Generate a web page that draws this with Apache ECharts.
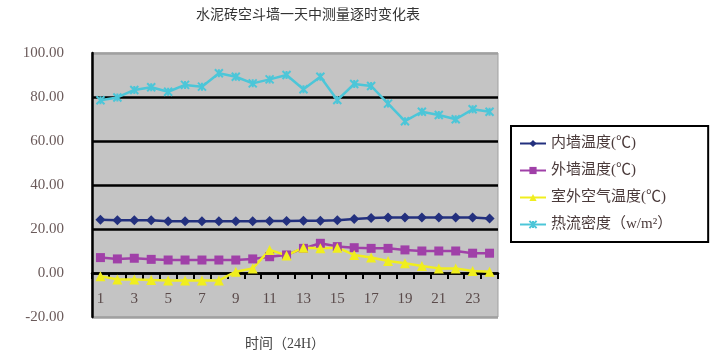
<!DOCTYPE html>
<html>
<head>
<meta charset="utf-8">
<script src="https://cdn.jsdelivr.net/npm/echarts@6/dist/echarts.min.js"></script>
<style>
  html, body { margin: 0; padding: 0; background: #fff; }
  #main { width: 716px; height: 356px; }
</style>
</head>
<body>
<div id="main"></div>
<script>
// 小时
var hours = ['1', '2', '3', '4', '5', '6', '7', '8', '9', '10', '11', '12',
  '13', '14', '15', '16', '17', '18', '19', '20', '21', '22', '23', '24']
// 内墙温度
var innerWall = [24.2, 24.0, 24.0, 24.0, 23.5, 23.5, 23.5, 23.5, 23.5, 23.5, 23.6, 23.6,
  23.7, 23.8, 24.0, 24.6, 25.0, 25.2, 25.2, 25.2, 25.2, 25.2, 25.2, 24.8]
// 外墙温度
var outerWall = [7.0, 6.4, 6.7, 6.2, 5.9, 5.9, 5.9, 5.9, 5.9, 6.4, 7.4, 8.2,
  11.2, 13.5, 12.0, 11.5, 11.2, 11.2, 10.5, 10.0, 10.0, 10.0, 9.0, 9.0]
// 室外空气温度
var outdoorAir = [-1.5, -2.9, -2.9, -3.2, -3.4, -3.4, -3.4, -3.4, 0.6, 2.1, 10.5, 8.0,
  11.5, 11.2, 11.5, 8.2, 7.0, 5.5, 4.4, 3.2, 2.1, 2.1, 0.9, 0.6]
// 热流密度
var heatFlux = [78.5, 79.8, 83.2, 84.4, 82.4, 85.5, 84.7, 90.8, 89.2, 86.2, 88.0, 90.0,
  83.5, 89.2, 78.6, 85.9, 85.0, 77.0, 69.0, 73.3, 71.8, 69.9, 74.4, 73.3]

var legendNames = ['内墙温度(℃)', '外墙温度(℃)', '室外空气温度(℃)', '热流密度（w/m²）']

var chart = echarts.init(document.getElementById('main'))
var textFont = '"Liberation Serif", "Noto Sans CJK SC", serif'
var starX = 'path://M0,0L10,10M10,0L0,10M5,0L5,10'

function lineSeries(name, data, color, symbol, size) {
  return {
    name: name,
    type: 'line',
    data: data,
    symbol: symbol,
    symbolSize: size,
    showSymbol: true,
    lineStyle: { color: color, width: 2.5 },
    itemStyle: { color: color, borderColor: color, borderWidth: symbol === starX ? 2 : 0 },
    z: 6
  }
}

var option = {
  animation: false,
  textStyle: { fontFamily: textFont },
  graphic: [
    {
      type: 'text', x: 308, y: 8,
      style: { text: '水泥砖空斗墙一天中测量逐时变化表', fill: '#333', font: '14px ' + textFont, textAlign: 'center' }
    },
    {
      type: 'text', x: 285, y: 337,
      style: { text: '时间（24H）', fill: '#444', font: '14px ' + textFont, textAlign: 'center' }
    }
  ],
  legend: {
    orient: 'vertical',
    left: 511,
    top: 126,
    data: legendNames,
    backgroundColor: '#fff',
    borderColor: '#000',
    borderWidth: 2,
    padding: [10, 36, 10, 8],
    itemWidth: 26,
    itemHeight: 9,
    itemGap: 12,
    textStyle: { fontSize: 15, color: '#4a3a3a', fontFamily: textFont }
  },
  grid: {
    left: 92,
    right: 218,
    top: 53,
    bottom: 39,
    show: true,
    backgroundColor: '#c4c4c4',
    borderColor: '#a0a0a0',
    borderWidth: 1
  },
  xAxis: {
    type: 'category',
    data: hours,
    offset: -44, // 横轴放在 0 值处
    z: 4,
    axisLine: { onZero: false, lineStyle: { color: '#000', width: 2.5 } },
    axisTick: { show: true, interval: 0, length: 6, inside: false, lineStyle: { color: '#000', width: 2 } },
    axisLabel: { interval: 1, margin: 19, fontSize: 15, color: '#5a4a4a', fontFamily: textFont }
  },
  yAxis: {
    type: 'value',
    min: -20,
    max: 100,
    interval: 20,
    axisLine: { show: true, lineStyle: { color: '#000', width: 2.5 } },
    axisTick: { show: false },
    splitLine: {
      show: true,
      lineStyle: { color: ['#a0a0a0', '#000', '#000', '#000', '#000', '#000', '#a0a0a0'], width: 2.5 }
    },
    axisLabel: {
      margin: 28,
      fontSize: 15,
      color: '#6a5a5a',
      fontFamily: textFont,
      formatter: function (v) { return v.toFixed(2) }
    }
  },
  series: [
    lineSeries(legendNames[0], innerWall, '#23307e', 'diamond', 10),
    lineSeries(legendNames[1], outerWall, '#a040a8', 'rect', 9),
    lineSeries(legendNames[2], outdoorAir, '#f0ee1e', 'triangle', 10),
    lineSeries(legendNames[3], heatFlux, '#4cc6d8', starX, 8)
  ]
}

chart.setOption(option)
window.addEventListener('resize', function () {
  chart.resize()
})
</script>
</body>
</html>
